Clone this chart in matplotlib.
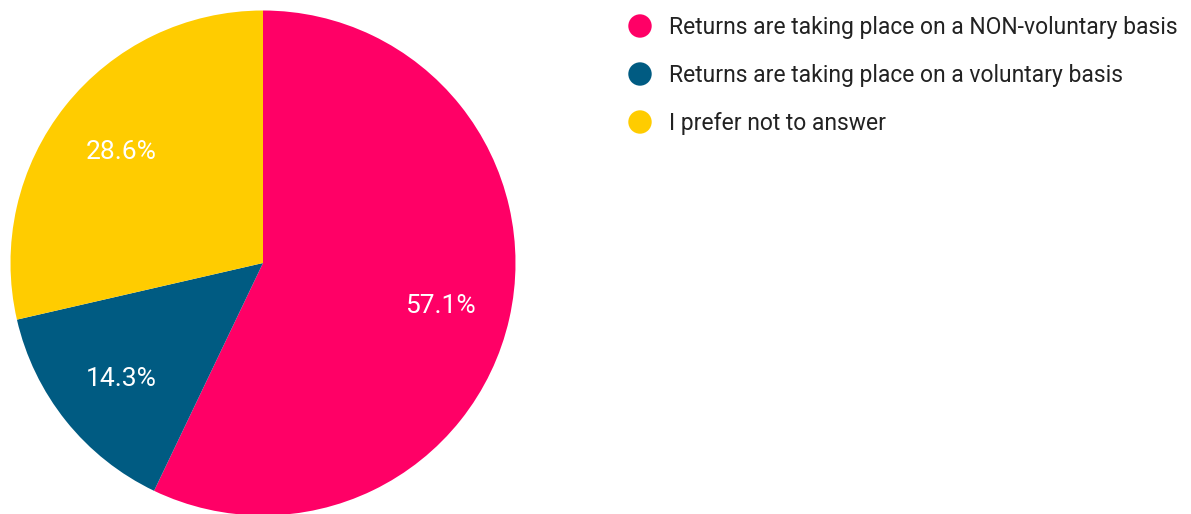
import matplotlib
matplotlib.use("Agg")
import matplotlib.pyplot as plt
from matplotlib.patches import Circle

categories = [
    "Returns are taking place on a NON-voluntary basis",
    "Returns are taking place on a voluntary basis",
    "I prefer not to answer",
]
shares = [57.1, 14.3, 28.6]
colors = ["#FF0066", "#005B82", "#FFCC00"]

W, H, DPI = 1191, 514, 100
fig = plt.figure(figsize=(W / DPI, H / DPI), dpi=DPI)
fig.patch.set_facecolor("white")
plt.rcParams["font.family"] = ["Roboto", "DejaVu Sans"]

# pie axes placed in pixel units
cx, cy, r = 263, 263, 252.5
ax = fig.add_axes([(cx - r) / W, (H - cy - r) / H, 2 * r / W, 2 * r / H])
wedges, _, autotexts = ax.pie(
    shares,
    colors=colors,
    startangle=90,
    counterclock=False,
    radius=1,
    autopct=lambda p: f"{p:.1f}%",
    pctdistance=0.72,
    wedgeprops=dict(linewidth=0),
    textprops=dict(color="white", fontsize=19),
)
for t in autotexts:
    t.set_verticalalignment("center_baseline")
ax.set_xlim(-1, 1)
ax.set_ylim(-1, 1)
ax.set_aspect("equal")
ax.axis("off")

# legend drawn in a full-figure overlay with pixel coordinates
lax = fig.add_axes([0, 0, 1, 1])
lax.set_xlim(0, W)
lax.set_ylim(H, 0)
lax.axis("off")
for i, (label, col) in enumerate(zip(categories, colors)):
    y = 26 + i * 48
    lax.add_patch(Circle((640, y), 11.7, color=col, lw=0))
    lax.text(669, y + 8, label, fontsize=16.5, color="#222222",
             va="baseline", ha="left")

fig.savefig("out.png", dpi=DPI, facecolor="white")
